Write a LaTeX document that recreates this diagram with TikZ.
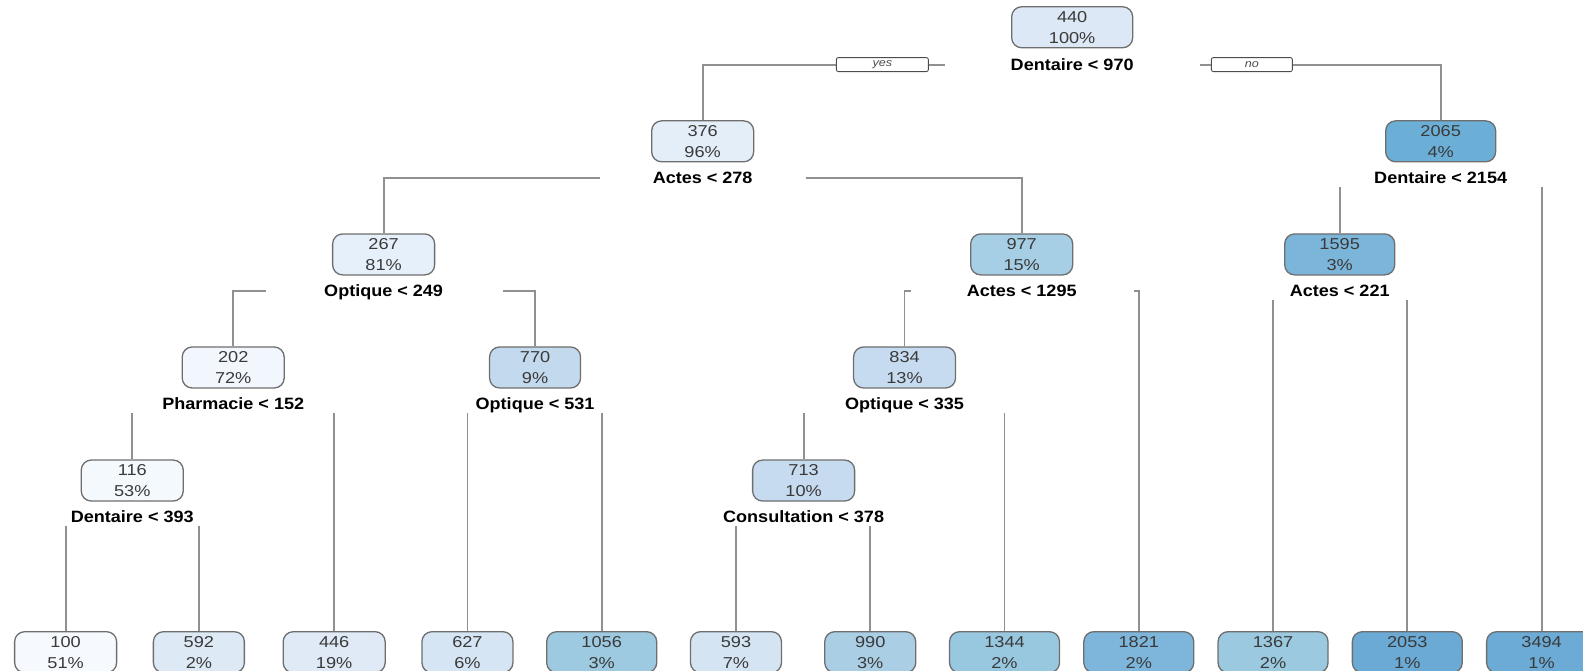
\documentclass[tikz,border=0pt]{standalone}
\usepackage{fontspec}
\newfontfamily\boxfont[FakeStretch=1.15]{Liberation Sans}
\newfontfamily\splitfont[FakeStretch=1.1]{Liberation Sans}
\usetikzlibrary{positioning}
\definecolor{boxline}{HTML}{6E6E6E}
\definecolor{boxtext}{HTML}{3A3A3A}
\definecolor{branchline}{HTML}{909090}
\definecolor{c440}{HTML}{DCE8F5}
\definecolor{c376}{HTML}{E3EEF8}
\definecolor{c2065}{HTML}{6BAED6}
\definecolor{c267}{HTML}{E6F0FA}
\definecolor{c977}{HTML}{A6CEE4}
\definecolor{c1595}{HTML}{7BB5DA}
\definecolor{c202}{HTML}{F1F7FD}
\definecolor{c770}{HTML}{C3D9EE}
\definecolor{c834}{HTML}{C6DBEF}
\definecolor{c116}{HTML}{F4F9FE}
\definecolor{c713}{HTML}{C6DBEF}
\definecolor{c100}{HTML}{F6FAFF}
\definecolor{c592}{HTML}{DDE9F5}
\definecolor{c446}{HTML}{DFEAF6}
\definecolor{c627}{HTML}{D6E5F4}
\definecolor{c1056}{HTML}{9DCAE1}
\definecolor{c593}{HTML}{D5E4F3}
\definecolor{c990}{HTML}{AACFE5}
\definecolor{c1344}{HTML}{98C7E0}
\definecolor{c1821}{HTML}{7EB5DB}
\definecolor{c1367}{HTML}{9BC9E0}
\definecolor{c2053}{HTML}{6AAAD4}
\definecolor{c3494}{HTML}{6BABD5}

\begin{document}
\begin{tikzpicture}[x=1.0096pt, y=-1.0096pt,
  tbox/.style={draw=boxline, line width=1.3pt, rounded corners=10pt, align=center,
    inner xsep=0pt, inner ysep=0pt, minimum height=41pt, text=boxtext,
    text depth=0pt, font=\boxfont\fontsize{15.8}{21}\selectfont},
  nar/.style={tbox, minimum width=91pt},
  wid/.style={tbox, minimum width=102pt},
  wdr/.style={tbox, minimum width=110pt},
  split/.style={font=\splitfont\bfseries\fontsize{16.4}{18}\selectfont,
    inner xsep=0pt, inner ysep=3pt, text height=12pt, text depth=0pt},
  yn/.style={draw=black!70, line width=0.9pt, rounded corners=2pt, minimum width=92pt,
    minimum height=14pt, inner sep=0pt, text=black!70,
    font=\boxfont\itshape\fontsize{11}{11}\selectfont},
  branch/.style={draw=branchline, line width=1.8pt}]
\useasboundingbox (0,0) rectangle (1568,664);

% root
\node[tbox, minimum width=121pt, fill=c440] (n440) at (1062,27) {440\\100\%};
\node[split] (s440) at (1062,64) {Dentaire < 970};
\node[yn] (yes) at (874,64) {yes};
\node[yn, minimum width=81pt] (no) at (1240,64) {no};

% level 1
\node[wid, fill=c376] (n376) at (696,140) {376\\96\%};
\node[split] (s376) at (696,176) {Actes < 278};
\node[wdr, fill=c2065] (n2065) at (1427,140) {2065\\4\%};
\node[split] (s2065) at (1427,176) {Dentaire < 2154};

% level 2
\node[wid, fill=c267] (n267) at (380,252) {267\\81\%};
\node[split] (s267) at (380,288) {Optique < 249};
\node[wid, fill=c977] (n977) at (1012,252) {977\\15\%};
\node[split] (s977) at (1012,288) {Actes < 1295};
\node[wdr, fill=c1595] (n1595) at (1327,252) {1595\\3\%};
\node[split] (s1595) at (1327,288) {Actes < 221};

% level 3
\node[wid, fill=c202] (n202) at (231,364) {202\\72\%};
\node[split] (s202) at (231,400) {Pharmacie < 152};
\node[nar, fill=c770] (n770) at (530,364) {770\\9\%};
\node[split] (s770) at (530,400) {Optique < 531};
\node[wid, fill=c834] (n834) at (896,364) {834\\13\%};
\node[split] (s834) at (896,400) {Optique < 335};

% level 4
\node[wid, fill=c116] (n116) at (131,476) {116\\53\%};
\node[split] (s116) at (131,512) {Dentaire < 393};
\node[wid, fill=c713] (n713) at (796,476) {713\\10\%};
\node[split] (s713) at (796,512) {Consultation < 378};

% leaves
\node[wid, fill=c100] (l100) at (65,646) {100\\51\%};
\node[nar, fill=c592] (l592) at (197,646) {592\\2\%};
\node[wid, fill=c446] (l446) at (331,646) {446\\19\%};
\node[nar, fill=c627] (l627) at (463,646) {627\\6\%};
\node[wdr, fill=c1056] (l1056) at (596,646) {1056\\3\%};
\node[nar, fill=c593] (l593) at (729,646) {593\\7\%};
\node[nar, fill=c990] (l990) at (862,646) {990\\3\%};
\node[wdr, fill=c1344] (l1344) at (995,646) {1344\\2\%};
\node[wdr, fill=c1821] (l1821) at (1128,646) {1821\\2\%};
\node[wdr, fill=c1367] (l1367) at (1261,646) {1367\\2\%};
\node[wdr, fill=c2053] (l2053) at (1394,646) {2053\\1\%};
\node[wdr, fill=c3494] (l3494) at (1527,646) {3494\\1\%};

% branches
\draw[branch] ([xshift=-66pt]s440.west) -- (yes.east);
\draw[branch] (yes.west) -| (n376.north);
\draw[branch] ([xshift=66pt]s440.east) -- (no.west);
\draw[branch] (no.east) -| (n2065.north);

\draw[branch] ([xshift=-53pt]s376.west) -| (n267.north);
\draw[branch] ([xshift=53pt]s376.east) -| (n977.north);
\draw[branch] (s2065.south -| n1595.north) -- (n1595.north);
\draw[branch] (s2065.south -| l3494.north) -- (l3494.north);

\draw[branch] ([xshift=-58pt]s267.west) -| (n202.north);
\draw[branch] ([xshift=60pt]s267.east) -| (n770.north);
\draw[branch] ([xshift=-56pt]s977.west) -| (n834.north);
\draw[branch] ([xshift=57pt]s977.east) -| (l1821.north);
\draw[branch] (s1595.south -| l1367.north) -- (l1367.north);
\draw[branch] (s1595.south -| l2053.north) -- (l2053.north);

\draw[branch] (s202.south -| n116.north) -- (n116.north);
\draw[branch] (s202.south -| l446.north) -- (l446.north);
\draw[branch] (s770.south -| l627.north) -- (l627.north);
\draw[branch] (s770.south -| l1056.north) -- (l1056.north);
\draw[branch] (s834.south -| n713.north) -- (n713.north);
\draw[branch] (s834.south -| l1344.north) -- (l1344.north);

\draw[branch] (s116.south -| l100.north) -- (l100.north);
\draw[branch] (s116.south -| l592.north) -- (l592.north);
\draw[branch] (s713.south -| l593.north) -- (l593.north);
\draw[branch] (s713.south -| l990.north) -- (l990.north);
\end{tikzpicture}
\end{document}
